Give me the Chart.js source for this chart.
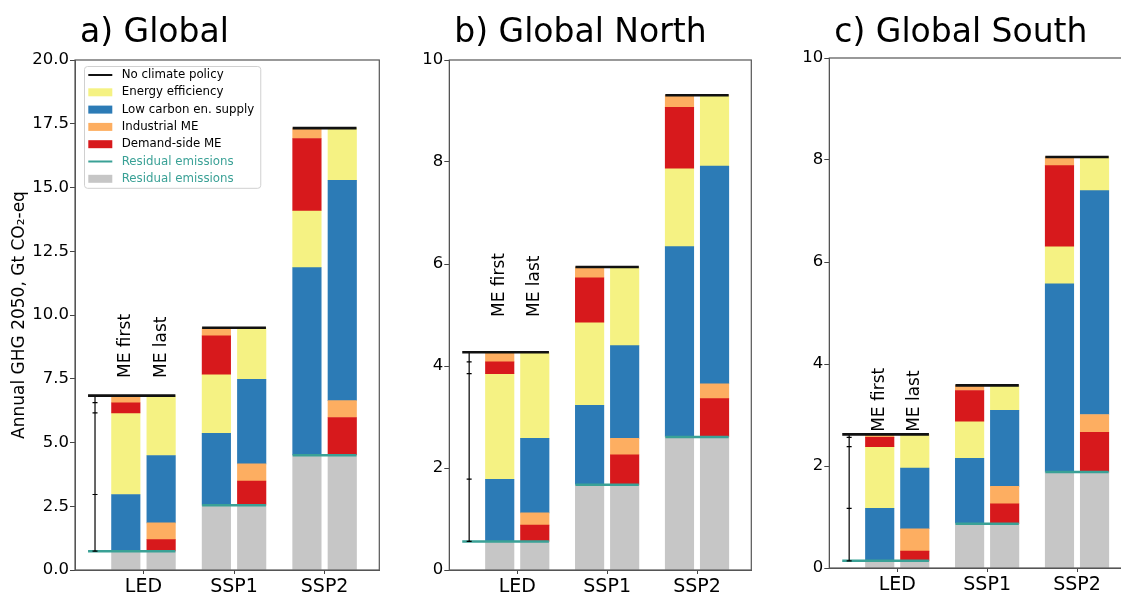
<!DOCTYPE html>
<html>
<head>
<meta charset="utf-8">
<script src="https://cdn.jsdelivr.net/npm/chart.js@4"></script>
<style>
  html, body { margin: 0; background: #fff; overflow: hidden; width: 1121px; height: 595px; position: relative; }
  canvas { position: absolute; }
</style>
</head>
<body>
<canvas id="pa" width="400" height="595" style="left:0px;top:0px"></canvas>
<canvas id="pb" width="400" height="595" style="left:375px;top:0px"></canvas>
<canvas id="pc" width="400" height="595" style="left:755px;top:-2px"></canvas>
<script>
const scenarios = ['LED', 'SSP1', 'SSP2'];

// Annual GHG 2050, Gt CO2-eq -- size of each wedge
// Global
const gResidual       = [0.74, 2.54, 4.50];
const gFirstLowCarbon = [2.22, 2.82, 7.36];
const gFirstEff       = [3.20, 2.32, 2.24];
const gFirstDemand    = [0.40, 1.50, 2.82];
const gFirstIndust    = [0.28, 0.32, 0.41];
const gLastDemand     = [0.45, 0.95, 1.48];
const gLastIndust     = [0.66, 0.67, 0.66];
const gLastLowCarbon  = [2.64, 3.32, 8.64];
const gLastEff        = [2.35, 2.02, 2.05];
// Global North
const nResidual       = [0.56, 1.67, 2.61];
const nFirstLowCarbon = [1.22, 1.56, 3.73];
const nFirstEff       = [2.07, 1.63, 1.54];
const nFirstDemand    = [0.23, 0.87, 1.19];
const nFirstIndust    = [0.19, 0.21, 0.24];
const nLastDemand     = [0.32, 0.59, 0.75];
const nLastIndust     = [0.24, 0.32, 0.29];
const nLastLowCarbon  = [1.46, 1.82, 4.27];
const nLastEff        = [1.69, 1.54, 1.39];
// Global South
const sResidual       = [0.14, 0.87, 1.88];
const sFirstLowCarbon = [1.03, 1.28, 3.69];
const sFirstEff       = [1.21, 0.73, 0.74];
const sFirstDemand    = [0.18, 0.60, 1.58];
const sFirstIndust    = [0.06, 0.10, 0.17];
const sLastDemand     = [0.19, 0.39, 0.78];
const sLastIndust     = [0.44, 0.34, 0.35];
const sLastLowCarbon  = [1.19, 1.49, 4.39];
const sLastEff        = [0.66, 0.49, 0.66];

const FIRST_ORDER = ['residual', 'lowCarbon', 'efficiency', 'demand', 'industrial'];
const LAST_ORDER  = ['residual', 'demand', 'industrial', 'lowCarbon', 'efficiency'];

const TEAL = '#3aa196';
const comp = {
  residual:   { label: 'Residual emissions',     color: '#c6c6c6' },
  demand:     { label: 'Demand-side ME',         color: '#d7191c' },
  industrial: { label: 'Industrial ME',          color: '#fdae61' },
  lowCarbon:  { label: 'Low carbon en. supply',  color: '#2c7bb6' },
  efficiency: { label: 'Energy efficiency',      color: '#f5f283' },
};
const legendItems = [
  { label: 'No climate policy', color: '#111', line: true },
  { label: comp.efficiency.label, color: comp.efficiency.color },
  { label: comp.lowCarbon.label, color: comp.lowCarbon.color },
  { label: comp.industrial.label, color: comp.industrial.color },
  { label: comp.demand.label, color: comp.demand.color },
  { label: 'Residual emissions', color: TEAL, line: true, text: TEAL },
  { label: comp.residual.label, color: comp.residual.color, text: TEAL },
];

const OFFSET = 0.195;          // bar centre distance from scenario tick
const HALF = OFFSET + 0.1575;  // outer edge of the pair
const ERR_X = -0.535;
const LINE_START = -0.612;

Chart.defaults.font.family = 'DejaVu Sans';
Chart.defaults.color = '#000';

function floats(values, order, offset) {
  const out = {};
  order.forEach(k => out[k] = []);
  scenarios.forEach((s, i) => {
    let base = 0;
    order.forEach(k => {
      const v = values[k][i];
      out[k].push({ x: i + offset, y: [base, base + v] });
      base += v;
    });
  });
  return out;
}

function segLine(levels) {
  const pts = [];
  levels.forEach((v, i) => {
    pts.push({ x: i === 0 ? LINE_START : i - HALF, y: v }, { x: i + HALF, y: v }, { x: i + HALF + 0.01, y: null });
  });
  return pts;
}

const panelPlugin = {
  id: 'panelDeco',
  afterDraw(chart, args, o) {
    const { ctx, chartArea: a } = chart;
    const xs = chart.scales.x, ys = chart.scales.y;
    ctx.save();
    // frame
    ctx.strokeStyle = '#555';
    ctx.lineWidth = 1.2;
    ctx.strokeRect(a.left, a.top, a.right - a.left, a.bottom - a.top);
    // title
    ctx.fillStyle = '#000';
    ctx.font = '33px DejaVu Sans';
    ctx.textAlign = 'left';
    ctx.textBaseline = 'alphabetic';
    ctx.fillText(o.title, a.left + 5, 42 - chart.canvas.offsetTop);
    // ME first / ME last
    ctx.font = '17px DejaVu Sans';
    ctx.textBaseline = 'middle';
    [['ME first', -OFFSET], ['ME last', OFFSET]].forEach(([t, dx]) => {
      ctx.save();
      ctx.translate(xs.getPixelForValue(dx), ys.getPixelForValue(o.ledTotal + o.labelLift));
      ctx.rotate(-Math.PI / 2);
      ctx.fillText(t, 0, 0);
      ctx.restore();
    });
    // legend
    if (o.legend) {
      ctx.font = '11.8px DejaVu Sans';
      const x0 = a.left + 9, y0 = a.top + 6, rowH = 17.3;
      const tw = Math.max(...legendItems.map(it => ctx.measureText(it.label).width));
      const w = 37.7 + tw + 6, h = 18 + rowH * (legendItems.length - 1);
      ctx.beginPath();
      ctx.roundRect(x0 + 0.5, y0 + 0.5, w, h, 3);
      ctx.fillStyle = 'rgba(255,255,255,0.8)';
      ctx.fill();
      ctx.strokeStyle = '#d0d0d0';
      ctx.lineWidth = 1;
      ctx.stroke();
      legendItems.forEach((it, k) => {
        const cy = y0 + 9 + k * rowH;
        if (it.line) {
          ctx.strokeStyle = it.color;
          ctx.lineWidth = 2;
          ctx.beginPath();
          ctx.moveTo(x0 + 4.3, cy);
          ctx.lineTo(x0 + 28.3, cy);
          ctx.stroke();
        } else {
          ctx.fillStyle = it.color;
          ctx.fillRect(x0 + 4.3, cy - 4, 24, 8);
        }
        ctx.fillStyle = it.text || '#000';
        ctx.textBaseline = 'middle';
        ctx.fillText(it.label, x0 + 37.7, cy);
      });
    }
    ctx.restore();
  }
};

function buildChart(p) {
  const firstVals = Object.assign({ residual: p.residual }, p.first);
  const lastVals = Object.assign({ residual: p.residual }, p.last);
  const firstStacks = floats(firstVals, FIRST_ORDER, -OFFSET);
  const lastStacks = floats(lastVals, LAST_ORDER, OFFSET);
  const totals = scenarios.map((s, i) => FIRST_ORDER.reduce((acc, k) => acc + firstVals[k][i], 0));

  // LED "ME first" wedge boundaries for the bracket
  const errPts = [];
  let lvl = 0;
  FIRST_ORDER.forEach(k => { lvl += firstVals[k][0]; errPts.push({ x: ERR_X, y: lvl }); });

  const datasets = [
    { type: 'line', label: 'No climate policy', data: segLine(totals), borderColor: '#111', borderWidth: 2.6, pointRadius: 0, order: 0 },
    { type: 'line', label: 'Residual emissions', data: segLine(p.residual), borderColor: TEAL, borderWidth: 2.5, pointRadius: 0, order: 1 },
    { type: 'line', label: 'bracket', data: errPts, borderColor: '#000', borderWidth: 1.2, pointStyle: 'line', pointRadius: 2.5, pointBorderWidth: 1.2, pointBorderColor: '#000', order: 0 },
  ];
  ['residual', 'demand', 'industrial', 'lowCarbon', 'efficiency'].forEach(k => {
    datasets.push({
      type: 'bar', label: comp[k].label, backgroundColor: comp[k].color,
      data: firstStacks[k].concat(lastStacks[k]),
      grouped: false, barThickness: 28.5, borderWidth: 0, order: 2,
    });
  });

  new Chart(document.getElementById(p.canvas), {
    type: 'bar',
    data: { datasets },
    options: {
      responsive: false,
      animation: false,
      events: [],
      devicePixelRatio: 1,
      layout: { padding: { top: 60, right: p.padRight, left: 0, bottom: 0 } },
      plugins: {
        legend: { display: false },
        tooltip: { enabled: false },
        panelDeco: { title: p.title, legend: p.legend, ledTotal: totals[0], labelLift: p.labelLift },
      },
      scales: {
        x: {
          type: 'linear', min: -0.756, max: 2.604, offset: false,
          afterBuildTicks: s => { s.ticks = scenarios.map((c, i) => ({ value: i })); },
          afterFit: s => { s.height = 25; },
          ticks: { callback: v => scenarios[v], font: { size: 19 }, color: '#000', autoSkip: false, maxRotation: 0, padding: 2 },
          grid: { offset: false, drawOnChartArea: false, drawTicks: true, tickLength: 4, color: '#444' },
          border: { color: '#555' },
        },
        y: {
          type: 'linear', min: 0, max: p.yMax,
          afterFit: s => { s.width = p.yWidth; },
          ticks: { stepSize: p.yStep, callback: v => v.toFixed(p.yDecimals), font: { size: 16.5 }, color: '#000', padding: 1 },
          grid: { drawOnChartArea: false, drawTicks: true, tickLength: 5, color: '#444' },
          border: { color: '#555' },
          title: {
            display: !!p.yTitle, text: 'Annual GHG 2050, Gt CO\u2082-eq',
            font: { size: 17 }, color: '#000', padding: { top: 9, bottom: 0 },
          },
        },
      },
    },
    plugins: [panelPlugin],
  });
}

buildChart({
  canvas: 'pa', title: 'a) Global', yMax: 20, yStep: 2.5, yDecimals: 1, yWidth: 75, padRight: 20.7,
  labelLift: 0.69, legend: true, yTitle: true, residual: gResidual,
  first: { lowCarbon: gFirstLowCarbon, efficiency: gFirstEff, demand: gFirstDemand, industrial: gFirstIndust },
  last: { demand: gLastDemand, industrial: gLastIndust, lowCarbon: gLastLowCarbon, efficiency: gLastEff },
});
buildChart({
  canvas: 'pb', title: 'b) Global North', yMax: 10, yStep: 2, yDecimals: 0, yWidth: 74.3, padRight: 23.7,
  labelLift: 0.69, residual: nResidual,
  first: { lowCarbon: nFirstLowCarbon, efficiency: nFirstEff, demand: nFirstDemand, industrial: nFirstIndust },
  last: { demand: nLastDemand, industrial: nLastIndust, lowCarbon: nLastLowCarbon, efficiency: nLastEff },
});
buildChart({
  canvas: 'pc', title: 'c) Global South', yMax: 10, yStep: 2, yDecimals: 0, yWidth: 74.3, padRight: 23.7,
  labelLift: 0.05, residual: sResidual,
  first: { lowCarbon: sFirstLowCarbon, efficiency: sFirstEff, demand: sFirstDemand, industrial: sFirstIndust },
  last: { demand: sLastDemand, industrial: sLastIndust, lowCarbon: sLastLowCarbon, efficiency: sLastEff },
});
</script>
</body>
</html>
